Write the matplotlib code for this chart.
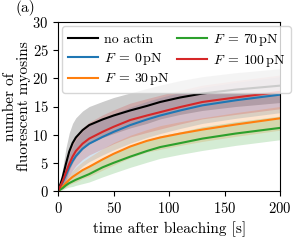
import matplotlib
matplotlib.use("Agg")
import matplotlib.pyplot as plt
import numpy as np

plt.rcParams['font.family'] = 'serif'
plt.rcParams['font.serif'] = ['cmr10']
plt.rcParams['mathtext.fontset'] = 'cm'
plt.rcParams['axes.formatter.use_mathtext'] = True
plt.rcParams['font.size'] = 11

# time after bleaching [s]
t = [0, 4, 7, 10, 13, 16, 22, 28, 40, 50, 65, 80, 92, 110, 130, 160, 200]

# mean number of fluorescent myosins
no_actin = [0, 2.4, 4.8, 7.0, 8.5, 9.5, 10.8, 11.7, 12.7, 13.4, 14.3, 15.1, 15.8, 16.6, 17.3, 18.0, 18.7]
f0 = [0, 1.5, 2.8, 4.2, 5.3, 6.2, 7.5, 8.4, 9.6, 10.5, 11.7, 12.7, 13.4, 14.3, 15.2, 16.1, 17.1]
f30 = [0, 0.8, 1.4, 2.0, 2.5, 2.9, 3.7, 4.3, 5.6, 6.6, 7.9, 8.9, 9.5, 10.2, 10.9, 11.8, 12.9]
f70 = [0, 0.5, 1.0, 1.4, 1.7, 2.0, 2.5, 3.0, 4.2, 5.0, 6.1, 7.1, 7.8, 8.5, 9.3, 10.2, 11.2]
f100 = [0, 1.7, 3.3, 4.8, 6.1, 7.1, 8.4, 9.3, 10.5, 11.4, 12.6, 13.4, 14.0, 14.9, 15.8, 16.6, 17.6]

# standard deviations (shaded bands)
no_actin_sd = [0, 1.5, 2.8, 3.3, 3.5, 3.5, 3.4, 3.3, 3.2, 3.2, 3.1, 3.1, 3.0, 3.0, 3.0, 3.0, 3.0]
f0_sd = [0, 0.9, 1.6, 2.2, 2.6, 2.9, 3.1, 3.2, 3.2, 3.2, 3.2, 3.2, 3.2, 3.2, 3.2, 3.2, 3.2]
f30_sd = [0, 0.4, 0.7, 0.9, 1.1, 1.3, 1.5, 1.7, 1.9, 2.0, 2.0, 2.0, 2.1, 2.1, 2.1, 2.1, 2.1]
f70_sd = [0, 0.3, 0.5, 0.7, 0.9, 1.0, 1.2, 1.4, 1.7, 1.8, 1.9, 2.0, 2.0, 2.0, 2.1, 2.1, 2.1]
f100_sd = [0, 0.9, 1.5, 2.0, 2.4, 2.6, 2.8, 2.9, 3.0, 3.0, 3.0, 3.0, 3.0, 3.0, 3.0, 3.0, 3.0]

series = [
    (no_actin, no_actin_sd, 'black', 'no actin'),
    (f0, f0_sd, 'tab:blue', r'$F\:=\:0\,\mathrm{pN}$'),
    (f30, f30_sd, 'tab:orange', r'$F\:=\:30\,\mathrm{pN}$'),
    (f70, f70_sd, 'tab:green', r'$F\:=\:70\,\mathrm{pN}$'),
    (f100, f100_sd, 'tab:red', r'$F\:=\:100\,\mathrm{pN}$'),
]

fig = plt.figure(figsize=(3.06, 2.5), dpi=100)
ax = fig.add_axes([0.19, 0.236, 0.725, 0.676])

for mean, sd, col, lab in series:
    m = np.array(mean)
    s = np.array(sd)
    ax.fill_between(t, m - s, m + s, color=col, alpha=0.2, linewidth=0)
    ax.plot(t, m, color=col, lw=1.5, label=lab)

ax.set_xlim(0, 200)
ax.set_ylim(0, 30)
ax.set_xticks([0, 50, 100, 150, 200])
ax.set_yticks([0, 5, 10, 15, 20, 25, 30])
ax.tick_params(labelsize=10.5)
ax.set_xlabel('time after bleaching [s]')
ax.set_ylabel('number of\nfluorescent myosins', linespacing=1.0, labelpad=1)
ax.legend(loc='upper left', ncol=2, fontsize=10, columnspacing=0.5,
          handlelength=2.2, handletextpad=0.4, borderaxespad=0.3,
          labelspacing=0.35, borderpad=0.4)

fig.text(0.05, 0.95, '(a)')

plt.savefig('out.png', dpi=100)
